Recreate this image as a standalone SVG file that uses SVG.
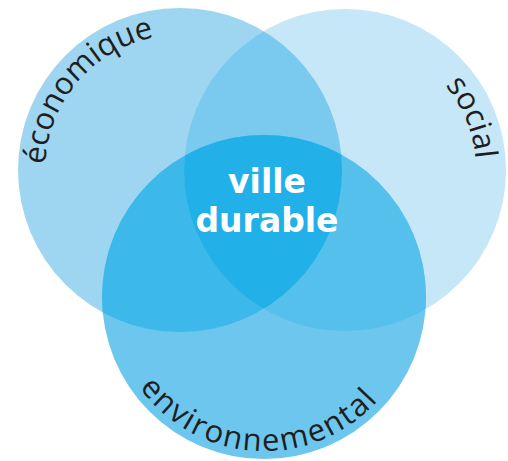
<svg xmlns="http://www.w3.org/2000/svg" width="508" height="461" viewBox="0 0 508 461">
<style>
.lbl{font-family:"Open Sans","Liberation Sans",sans-serif;font-size:31px;fill:#1e1e1e}
.ctr{font-family:"DejaVu Sans","Liberation Sans",sans-serif;font-weight:bold;font-size:33px;fill:#ffffff;text-anchor:middle}
</style>
<defs>
<clipPath id="cE"><circle cx="180" cy="170" r="162"/></clipPath>
<clipPath id="cS"><circle cx="345" cy="170" r="161"/></clipPath>
<path id="pE" d="M74.5,255.0 A136,136 0 0 1 248.0,52.1"/>
<path id="pS" d="M316.6,42.1 A131,131 0 0 1 415.4,280.5"/>
<path id="pV" d="M111.2,316.3 A154,154 0 0 0 414.2,331.0"/>
</defs>
<rect width="508" height="461" fill="#ffffff"/>
<g id="economique">
<circle cx="180" cy="170" r="162" fill="#9ed6f2"/>
</g>
<g id="social">
<circle cx="345" cy="170" r="161" fill="#c5e7f7"/>
<circle cx="345" cy="170" r="161" fill="#7acaef" clip-path="url(#cE)"/>
</g>
<g id="environnemental">
<circle cx="264" cy="297" r="162" fill="#6cc6ee"/>
<circle cx="264" cy="297" r="162" fill="#3db8ea" clip-path="url(#cE)"/>
<circle cx="264" cy="297" r="162" fill="#56c0ec" clip-path="url(#cS)"/>
<g clip-path="url(#cE)"><circle cx="264" cy="297" r="162" fill="#22b0e8" clip-path="url(#cS)"/></g>
</g>
<g id="labels">
<text class="lbl"><textPath href="#pE" startOffset="50%" text-anchor="middle">économique</textPath></text>
<text class="lbl"><textPath href="#pS" startOffset="50%" text-anchor="middle">social</textPath></text>
<text class="lbl" letter-spacing="1.8"><textPath href="#pV" startOffset="50%" text-anchor="middle">environnemental</textPath></text>
</g>
<g id="ville-durable">
<text class="ctr" x="267" y="193">ville</text>
<text class="ctr" x="267" y="232">durable</text>
</g>
<g id="connectors"/>
</svg>
